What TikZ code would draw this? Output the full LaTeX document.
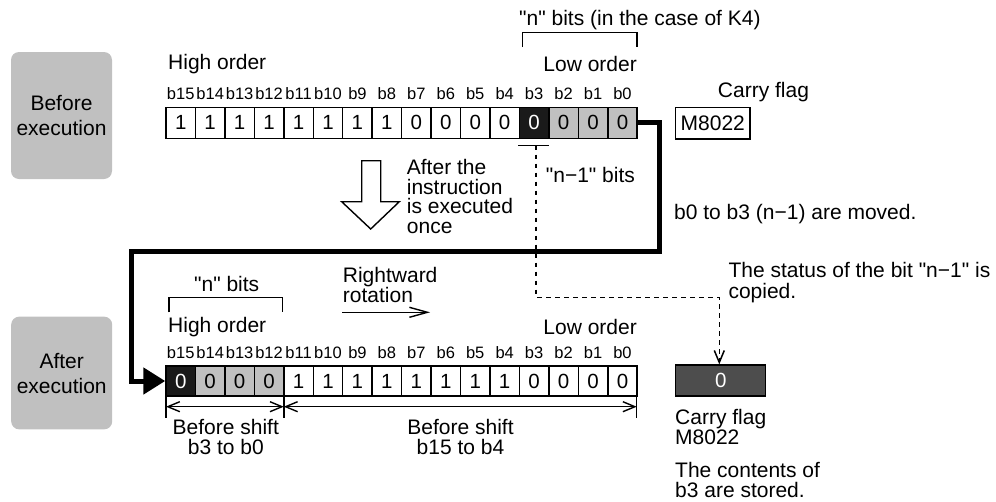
\documentclass[tikz,border=0pt]{standalone}
\usepackage{fontspec}
\setmainfont{Liberation Sans}[Ligatures=TeXOff]
\usetikzlibrary{arrows.meta}
\definecolor{boxgray}{HTML}{C0C0C0}
\definecolor{cellgray}{HTML}{C0C0C0}
\definecolor{cellblack}{HTML}{1A1A1A}
\definecolor{carrydark}{HTML}{4D4D4D}
\begin{document}
\begin{tikzpicture}[x=1pt,y=-1pt,
  txt/.style={inner sep=0pt, font=\fontsize{21}{20}\selectfont, align=left},
  bitlbl/.style={inner sep=0pt, font=\fontsize{16.5}{18}\selectfont},
  cell/.style={draw, line width=1.5pt, minimum width=29.45pt, minimum height=31pt, inner sep=0pt, font=\fontsize{20.5}{20}\selectfont},
  cw/.style={fill=white},
  ck/.style={fill=cellblack, text=white},
  cg/.style={fill=cellgray},
  phase/.style={fill=boxgray, rounded corners=8pt, minimum width=101pt, align=center, inner sep=0pt, font=\fontsize{21}{25}\selectfont},
  thin/.style={line width=1.4pt},
  barb/.style={-{Straight Barb[length=12pt,width=10pt]}},
  dashline/.style={line width=1.5pt, dash pattern=on 4.5pt off 4.5pt}
]
\useasboundingbox (0,0) rectangle (996,501);

% phase boxes
\node[phase, minimum height=127pt] (before) at (61.5,115.5) {Before\\execution};
\node[phase, minimum height=112.7pt] (after) at (61.7,373) {After\\execution};

% top row
\foreach \v/\s [count=\k from 0] in {1/cw,1/cw,1/cw,1/cw,1/cw,1/cw,1/cw,1/cw,0/cw,0/cw,0/cw,0/cw,0/ck,0/cg,0/cg,0/cg}{
  \pgfmathtruncatemacro\bit{15-\k}
  \pgfmathsetmacro\xc{166+29.45*\k+14.725}
  \node[cell,\s] (t\bit) at (\xc,122.8) {\v};
  \node[bitlbl] (tl\bit) at (\xc,94) {b\bit};
}
% bottom row
\foreach \v/\s [count=\k from 0] in {0/ck,0/cg,0/cg,0/cg,1/cw,1/cw,1/cw,1/cw,1/cw,1/cw,1/cw,1/cw,0/cw,0/cw,0/cw,0/cw}{
  \pgfmathtruncatemacro\bit{15-\k}
  \pgfmathsetmacro\xc{166+29.45*\k+14.725}
  \node[cell,\s, minimum height=30pt] (u\bit) at (\xc,381) {\v};
  \node[bitlbl] (ul\bit) at (\xc,353) {b\bit};
}

% top texts
\node[txt, anchor=west] (hi1) at (168,64) {High order};
\node[txt, anchor=east] (lo1) at (637,64) {Low order};
\node[txt, anchor=west] (nk4) at (519,20) {"n" bits (in the case of K4)};
\draw[thin] (522.7,47) -- (522.7,32.3) -- (637,32.3) -- (637,47);
\node[txt] (cf1) at (763.5,92) {Carry flag};
\node[draw, line width=1.3pt, inner sep=0pt, minimum width=74.3pt, minimum height=31.7pt, font=\fontsize{21}{20}\selectfont] (m1) at (712.8,123.2) {M8022};

% thick rotation connector
\coordinate (k1) at (659,122.8);
\coordinate (k2) at (659,251.5);
\coordinate (k3) at (131.7,251.5);
\draw[line width=5pt, line join=miter, -{Triangle[length=22pt,width=26pt]}]
  (t0.east) -- (k1) -- (k2) -- (k3) |- (u15.west);

% n-1 marker
\coordinate (d0) at (536,145.7);
\coordinate (d1) at (536,297.3);
\coordinate (d2) at (719.3,297.3);
\draw[line width=1.5pt] (518.3,145.7) -- (549,145.7);
\node[txt, anchor=west] (nm1) at (545.7,175) {"n−1" bits};
\node[txt, anchor=west] (moved) at (674,214) {b0 to b3 (n−1) are moved.};

% hollow down arrow
\draw[thin, line join=miter] (361.7,160.7) -- (380.7,160.7) -- (380.7,201.7) -- (399.3,201.7) -- (370.7,229) -- (341.7,201.7) -- (361.7,201.7) -- cycle;
\node[txt, anchor=west, font=\fontsize{21}{19.7}\selectfont] (exe) at (406.7,196.5) {After the\\instruction\\is executed\\once};

% bottom texts
\node[txt] (nb) at (226.7,284) {"n" bits};
\draw[thin] (169,312.3) -- (169,297.7) -- (282.3,297.7) -- (282.3,312.3);
\node[txt, anchor=west] (hi2) at (168,326.7) {High order};
\node[txt, anchor=east] (lo2) at (637,327) {Low order};
\node[txt, anchor=west] (rot) at (342.7,285) {Rightward\\rotation};
\coordinate (r1) at (342.3,312.3);
\coordinate (r2) at (430,312.3);
\draw[thin, -{Straight Barb[length=18pt,width=10pt]}] (r1) -- (r2);

% carry after
\node[draw, line width=1.2pt, fill=carrydark, text=white, minimum width=90pt, minimum height=31pt, inner sep=0pt, font=\fontsize{20.5}{20}\selectfont] (c2) at (720.7,380.5) {0};
\draw[dashline, barb] (d0) -- (d1) -- (d2) -- (c2.north -| d2);
\node[txt, anchor=west, font=\fontsize{21}{21.6}\selectfont] (status) at (728.3,282.5) {The status of the bit "n−1" is\\copied.};
\node[txt, anchor=west, font=\fontsize{21}{17}\selectfont] (cf2) at (675,426.7) {Carry flag\\M8022};
\node[txt, anchor=west] (cont) at (675,480) {The contents of\\b3 are stored.};

% dimension lines
\coordinate (e0) at (166,406.7);
\coordinate (e1) at (283.8,406.7);
\coordinate (e2) at (636.7,406.7);
\draw[thin] (166,396) -- (166,418.3);
\draw[thin] (283.8,396) -- (283.8,418.3);
\draw[thin] (636.7,396) -- (636.7,418.3);
\draw[thin, {Straight Barb[length=12pt,width=10pt]}-{Straight Barb[length=12pt,width=10pt]}] (e0) -- (e1);
\draw[thin, {Straight Barb[length=12pt,width=10pt]}-{Straight Barb[length=12pt,width=10pt]}] (e1) -- (e2);
\node[txt, align=center] (bs1) at (225.8,436.7) {Before shift\\b3 to b0};
\node[txt, align=center] (bs2) at (460.5,436.7) {Before shift\\b15 to b4};
\end{tikzpicture}
\end{document}
